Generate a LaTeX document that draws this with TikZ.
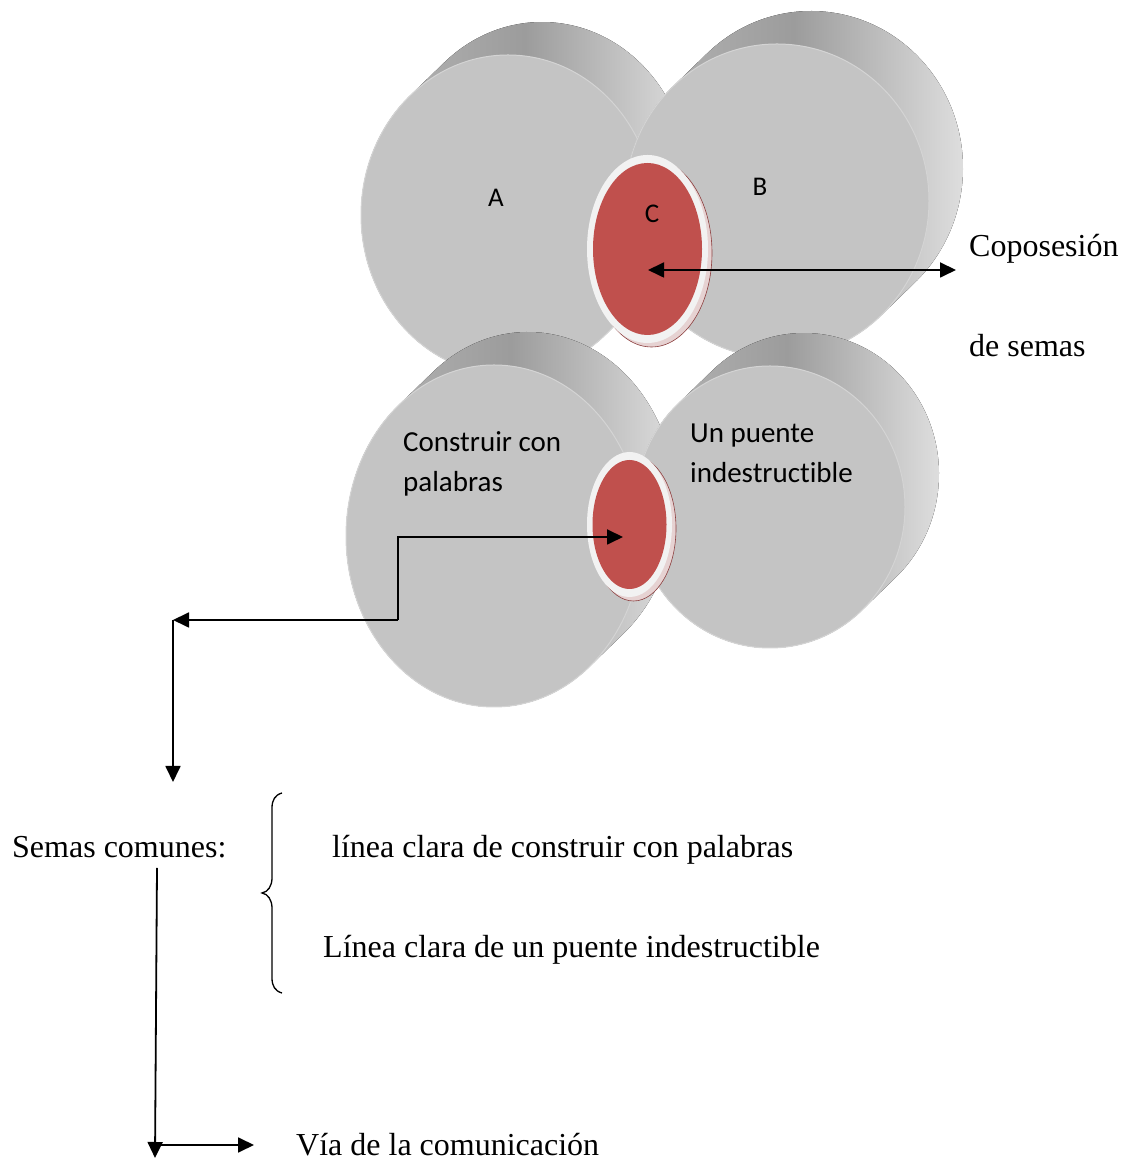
\documentclass[tikz,border=0pt]{standalone}
\usepackage{fontspec}
\setmainfont{Liberation Serif}
\newfontfamily\labelsans[Ligatures={NoCommon}]{Carlito}
\usetikzlibrary{arrows.meta,calc,shapes.geometric}

\definecolor{faceGray}{HTML}{C4C4C4}
\definecolor{faceEdge}{HTML}{D4D4D4}
\definecolor{sideLeft}{HTML}{BABABA}
\definecolor{sideMid}{HTML}{9C9C9C}
\definecolor{sideRight}{HTML}{E4E4E4}
\definecolor{capRed}{HTML}{C0504D}
\definecolor{capRim}{HTML}{F2F2F2}
\definecolor{rimEdge}{HTML}{8C3F3F}
\definecolor{rimFill}{HTML}{E6D2D2}

\tikzset{
  discside/.style={left color=sideLeft, right color=sideRight, middle color=sideMid},
  discface/.style={fill=faceGray, draw=faceEdge, line width=1pt},
  serif/.style={font=\fontsize{32}{38}\selectfont, inner sep=0pt, anchor=base west},
  sanslbl/.style={font=\labelsans\fontsize{29}{35}\selectfont, inner sep=0pt, anchor=base west},
  letter/.style={font=\labelsans\fontsize{27}{32}\selectfont, inner sep=0pt, anchor=base},
  tip/.tip={Triangle[length=16pt,width=15pt]},
  conn/.style={line width=1.8pt, -tip},
  rim/.style={fill=rimFill, draw=rimEdge, line width=0.6pt},
}

% A cylinder seen slightly from the front left: the front face is an
% ellipse, the back face is the same ellipse shifted by (34,33).
\newcommand{\disc}[4]{% centre x, centre y, x radius, y radius
  \pgfmathsetmacro{\dta}{-atan(34*#4/(33*#3))}
  \pgfmathsetmacro{\dtb}{\dta+180}
  \pgfmathsetmacro{\dtc}{\dta+360}
  \pgfmathsetmacro{\dtd}{\dta+540}
  \fill[discside] ($(#1,#2)+(\dtb:#3 and #4)$)
     arc[start angle=\dtb, end angle=\dtc, x radius=#3pt, y radius=#4pt]
     -- ++(34,33)
     arc[start angle=\dtc, end angle=\dtd, x radius=#3pt, y radius=#4pt] -- cycle;
  \fill[discface] (#1,#2) ellipse[x radius=#3pt, y radius=#4pt];
}

\begin{document}
\begin{tikzpicture}[x=1pt, y=1pt]
\useasboundingbox (0,0) rectangle (1125,1162);

% the four discs
\disc{508}{947}{147}{160}
\disc{777}{961}{152}{157}
\disc{494}{626}{148}{171}
\disc{770}{655}{135}{141}

% shared region of A and B
\coordinate (c1c) at (647.5,913);
\fill[rim] ($(c1c)+(4,-4)$) ellipse[x radius=60.5pt, y radius=94pt];
\node[ellipse, fill=capRim, minimum width=121pt, minimum height=188pt,
      inner sep=0pt, outer sep=0pt] (c1) at (c1c) {};
\fill[capRed] (c1.center) ellipse[x radius=54.5pt, y radius=86pt];

% shared region of the lower pair
\coordinate (c2c) at (629.5,637.5);
\fill[rim] ($(c2c)+(4,-4)$) ellipse[x radius=42.5pt, y radius=72.5pt];
\node[ellipse, fill=capRim, minimum width=85pt, minimum height=145pt,
      inner sep=0pt, outer sep=0pt] (c2) at (c2c) {};
\fill[capRed] (c2.center) ellipse[x radius=37pt, y radius=64.5pt];

% labels on the discs
\node[letter] (la) at (496,955) {A};
\node[letter] (lb) at (760,966) {B};
\node[letter] (lc) at (652,939) {C};
\node[sanslbl] (cp1) at (403,710.3) {Construir con};
\node[sanslbl] (cp2) at (403,670.3) {palabras};
\node[sanslbl] (up1) at (690,719.3) {Un puente};
\node[sanslbl] (up2) at (690,679) {indestructible};

% text on the right and below
\node[serif] (copo) at (969,905) {Coposesión};
\node[serif] (desemas) at (969,805) {de semas};
\node[serif] (semas) at (12,304) {Semas comunes:};
\node[serif] (linea1) at (332,304) {línea clara de construir con palabras};
\node[serif] (linea2) at (323,204) {Línea clara de un puente indestructible};
\node[serif] (via) at (296,6) {Vía de la comunicación};

% connectors
\coordinate (c1tip) at (648,892);
\coordinate (copoend) at (956,892);
\draw[line width=1.8pt, tip-tip] (c1tip) -- (copoend);

\coordinate (c2tip) at (623,625);
\coordinate (bend) at (398,542);
\coordinate (leftend) at (173,542);
\coordinate (downend) at (173,380);
\draw[conn] (bend) |- (c2tip);
\draw[conn] (bend) -- (leftend);
\draw[conn] (leftend) -- (downend);

\coordinate (vtop) at (157,294);
\coordinate (vbot) at (155,4);
\coordinate (hstart) at (155.5,17);
\coordinate (viaend) at (254,17);
\draw[conn] (vtop) -- (vbot);
\draw[conn] (hstart) -- (viaend);

% brace grouping the two common semes
\draw[line width=1.3pt]
  (282,369) .. controls (275,367) and (272,362) .. (272,354)
  -- (272,284) .. controls (272,276) and (268,270) .. (262,269)
  .. controls (268,268) and (272,262) .. (272,254)
  -- (272,184) .. controls (272,176) and (275,171) .. (282,169);
\end{tikzpicture}
\end{document}
